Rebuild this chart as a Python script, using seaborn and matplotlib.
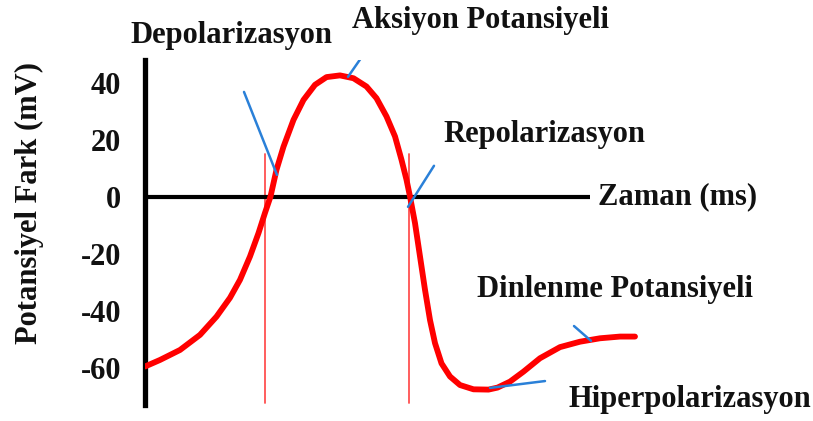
import matplotlib
matplotlib.use("Agg")
import matplotlib.pyplot as plt
import seaborn as sns
import pandas as pd

# Membrane potential over time (time in ms, potential in mV)
time_ms = [0.00, 0.30, 0.70, 1.10, 1.43, 1.70, 1.90, 2.10, 2.27, 2.40, 2.51, 2.63,
           2.77, 2.97, 3.17, 3.40, 3.63, 3.90, 4.17, 4.43, 4.63, 4.83, 5.00, 5.13,
           5.23, 5.30, 5.40, 5.50, 5.60, 5.70, 5.80, 5.93, 6.10, 6.30, 6.57, 6.87,
           7.05, 7.30, 7.57, 7.90, 8.30, 8.70, 9.10, 9.50, 9.80]
potential_mv = [-59.5, -57.2, -53.7, -48.4, -42.0, -35.4, -29.1, -20.9, -12.7, -5.6, 0.1, 9.5,
                17.6, 27.0, 34.0, 39.3, 42.0, 42.6, 41.6, 38.7, 34.6, 28.2, 21.2, 13.0,
                6.0, 0.1, -9.2, -20.9, -32.6, -43.2, -51.3, -58.4, -63.0, -66.0, -67.5, -67.6,
                -66.9, -64.8, -61.3, -56.6, -52.7, -50.8, -49.6, -49.0, -49.0]

y_ticks = [40, 20, 0, -20, -40, -60]
phase_marks_ms = [2.40, 5.28]  # threshold crossing / repolarization crossing

# phase labels: text, anchor (x, y) in data coords, leader line start and end
phase_labels = ["Depolarizasyon", "Aksiyon Potansiyeli", "Repolarizasyon",
                "Dinlenme Potansiyeli", "Hiperpolarizasyon"]
label_xy = [(-0.30, 56.5), (4.14, 62.0), (5.96, 21.8), (6.64, -32.5), (8.46, -71.2)]
leader_from = [(1.98, 36.8), (4.42, 51.2), (5.78, 10.9), (8.58, -45.3), (6.90, -67.0)]
leader_to = [(2.64, 7.7), (4.06, 42.1), (5.26, -3.5), (8.92, -50.5), (8.00, -64.6)]

df = pd.DataFrame({"Zaman": time_ms, "Potansiyel": potential_mv})

sns.set_style("white")
plt.rcParams["font.family"] = ["Liberation Serif", "DejaVu Serif"]
plt.rcParams["font.weight"] = "bold"

W, H = 813, 421
fig = plt.figure(figsize=(W / 100, H / 100), dpi=100)
ax = fig.add_axes([145 / W, 1 - 405 / H, (640 - 145) / W, (405 - 60) / H])
ax.set_xlim(0, 9.9)
ax.set_ylim(-73, 48)

ink = "#111111"
red = "#ff0000"
blue = "#2a80d8"
fs = 22

# vertical phase markers
for t in phase_marks_ms:
    ax.plot([t, t], [-72.3, 15.0], color="#ff5050", lw=1.3, zorder=2)

# time axis drawn at 0 mV
ax.plot([0, 8.9], [0, 0], color="black", lw=3.0, solid_capstyle="butt", zorder=3)

sns.lineplot(data=df, x="Zaman", y="Potansiyel", ax=ax, color=red, lw=4.2,
             sort=False, estimator=None, zorder=4)
curve = ax.lines[-1]
curve.set_solid_joinstyle("round")
curve.set_solid_capstyle("round")

for (x0, y0), (x1, y1) in zip(leader_from, leader_to):
    ax.plot([x0, x1], [y0, y1], color=blue, lw=1.8, zorder=5)

for txt, (x, y) in zip(phase_labels, label_xy):
    ax.text(x, y, txt, fontsize=fs, fontweight="bold", color=ink,
            ha="left", va="center", clip_on=False)
ax.text(9.06, 0, "Zaman (ms)", fontsize=fs, fontweight="bold", color=ink,
        ha="left", va="center", clip_on=False)

# left axis only
for side in ["top", "right", "bottom"]:
    ax.spines[side].set_visible(False)
ax.spines["left"].set_linewidth(3.8)
ax.spines["left"].set_color("black")
ax.set_yticks(y_ticks)
ax.set_yticklabels([str(v) for v in y_ticks], fontsize=fs, fontweight="bold", color=ink)
ax.tick_params(axis="y", length=0, pad=17)
ax.set_xticks([])
ax.set_xlabel("")
ax.set_ylabel("Potansiyel Fark (mV)", fontsize=fs, fontweight="bold", color=ink)
ax.yaxis.set_label_coords(-0.205, 0.585)
ax.set_facecolor("none")

fig.savefig("out.png", dpi=100)
